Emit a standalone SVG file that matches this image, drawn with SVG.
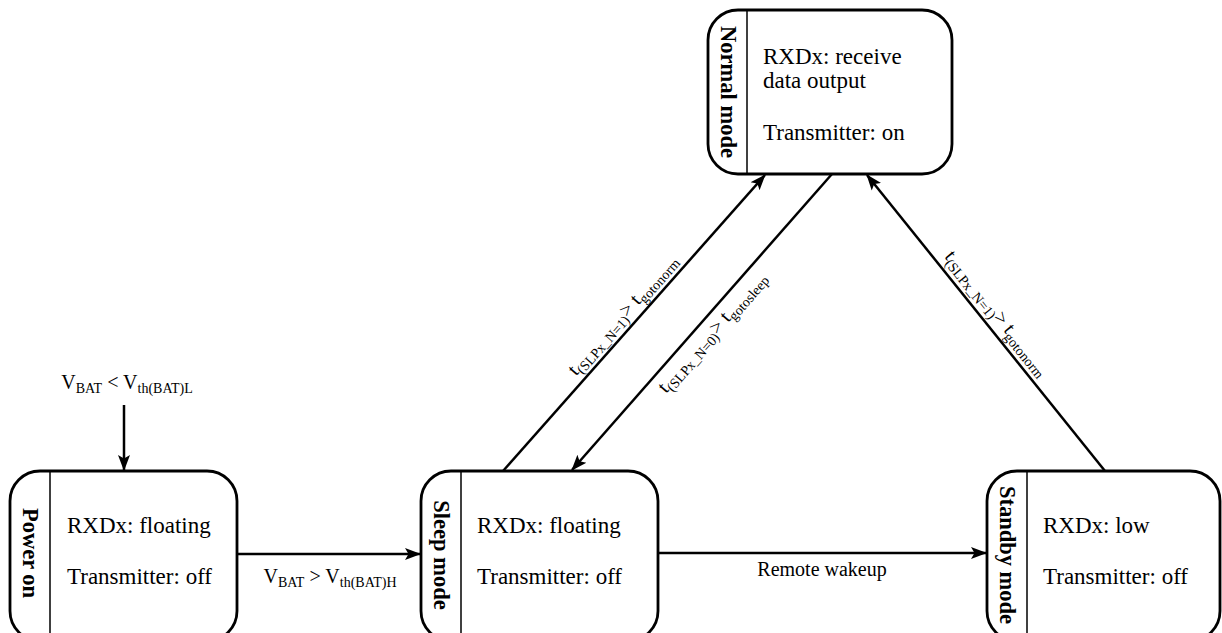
<svg xmlns="http://www.w3.org/2000/svg" width="1222" height="633" viewBox="0 0 1222 633">
<style>
.box{fill:#fff;stroke:#000;stroke-width:2.8}
.div{stroke:#000;stroke-width:1.5}
.title{font-family:"Liberation Serif",serif;font-weight:bold;font-size:22.5px;text-anchor:middle;dominant-baseline:central}
.txt{font-family:"Liberation Serif",serif;font-size:23px}
.lbl{font-family:"Liberation Serif",serif;font-size:20px}
.sub{font-size:14px}
.conn{stroke:#000;stroke-width:2.5;fill:none;marker-end:url(#arr)}
</style>
<defs>
<marker id="arr" markerUnits="userSpaceOnUse" markerWidth="18" markerHeight="14" refX="15" refY="7" orient="auto">
<path d="M0,1 L16,7 L0,13 L3.5,7 z" fill="#000"/>
</marker>
</defs>
<g id="connectors">
<line class="conn" x1="124" y1="405" x2="124" y2="470"/>
<line class="conn" x1="237" y1="554" x2="420" y2="554"/>
<line class="conn" x1="658" y1="553" x2="986" y2="553"/>
<line class="conn" x1="503" y1="471" x2="765" y2="175"/>
<line class="conn" x1="832" y1="174" x2="572" y2="470"/>
<line class="conn" x1="1105" y1="471" x2="867" y2="175"/>
<text class="lbl" x="127" y="389" text-anchor="middle">V<tspan class="sub" dy="4">BAT</tspan><tspan dy="-4"> &lt; V</tspan><tspan class="sub" dy="4">th(BAT)L</tspan></text>
<text class="lbl" x="330" y="583" text-anchor="middle">V<tspan class="sub" dy="4">BAT</tspan><tspan dy="-4"> &gt; V</tspan><tspan class="sub" dy="4">th(BAT)H</tspan></text>
<text class="lbl" x="822" y="576" text-anchor="middle">Remote wakeup</text>
<g transform="translate(633,324) rotate(-48.6)"><text class="lbl" x="0" y="-8" text-anchor="middle">t<tspan class="sub" dy="4">(SLPx_N=1)</tspan><tspan dy="-4">&gt; t</tspan><tspan class="sub" dy="4">gotonorm</tspan></text></g>
<g transform="translate(701.5,323) rotate(-48.8)"><text class="lbl" x="0" y="20" text-anchor="middle">t<tspan class="sub" dy="4">(SLPx_N=0)</tspan><tspan dy="-4">&gt; t</tspan><tspan class="sub" dy="4">gotosleep</tspan></text></g>
<g transform="translate(986,322) rotate(51.3)"><text class="lbl" x="0" y="-8" text-anchor="middle">t<tspan class="sub" dy="4">(SLPx_N=1)</tspan><tspan dy="-4">&gt; t</tspan><tspan class="sub" dy="4">gotonorm</tspan></text></g>
</g>
<g id="normal">
<rect class="box" x="708" y="10" width="244" height="164" rx="30"/>
<line class="div" x1="747" y1="10" x2="747" y2="174"/>
<text class="title" transform="translate(728,92) rotate(90)">Normal mode</text>
<text class="txt" font-family="Liberation Serif, serif" x="763" y="64">RXDx: receive</text>
<text class="txt" font-family="Liberation Serif, serif" x="763" y="88">data output</text>
<text class="txt" font-family="Liberation Serif, serif" x="763" y="140">Transmitter: on</text>
</g>
<g id="poweron">
<rect class="box" x="10" y="471" width="227" height="170" rx="30"/>
<line class="div" x1="50" y1="471" x2="50" y2="641"/>
<text class="title" transform="translate(30,553) rotate(90)">Power on</text>
<text class="txt" font-family="Liberation Serif, serif" x="67" y="533">RXDx: floating</text>
<text class="txt" font-family="Liberation Serif, serif" x="67" y="584">Transmitter: off</text>
</g>
<g id="sleep">
<rect class="box" x="421" y="471" width="237" height="170" rx="30"/>
<line class="div" x1="461" y1="471" x2="461" y2="641"/>
<text class="title" transform="translate(441,555) rotate(90)">Sleep mode</text>
<text class="txt" font-family="Liberation Serif, serif" x="477" y="533">RXDx: floating</text>
<text class="txt" font-family="Liberation Serif, serif" x="477" y="584">Transmitter: off</text>
</g>
<g id="standby">
<rect class="box" x="987" y="471" width="233" height="170" rx="30"/>
<line class="div" x1="1027" y1="471" x2="1027" y2="641"/>
<text class="title" transform="translate(1007,555) rotate(90)">Standby mode</text>
<text class="txt" font-family="Liberation Serif, serif" x="1043" y="533">RXDx: low</text>
<text class="txt" font-family="Liberation Serif, serif" x="1043" y="584">Transmitter: off</text>
</g>
</svg>
